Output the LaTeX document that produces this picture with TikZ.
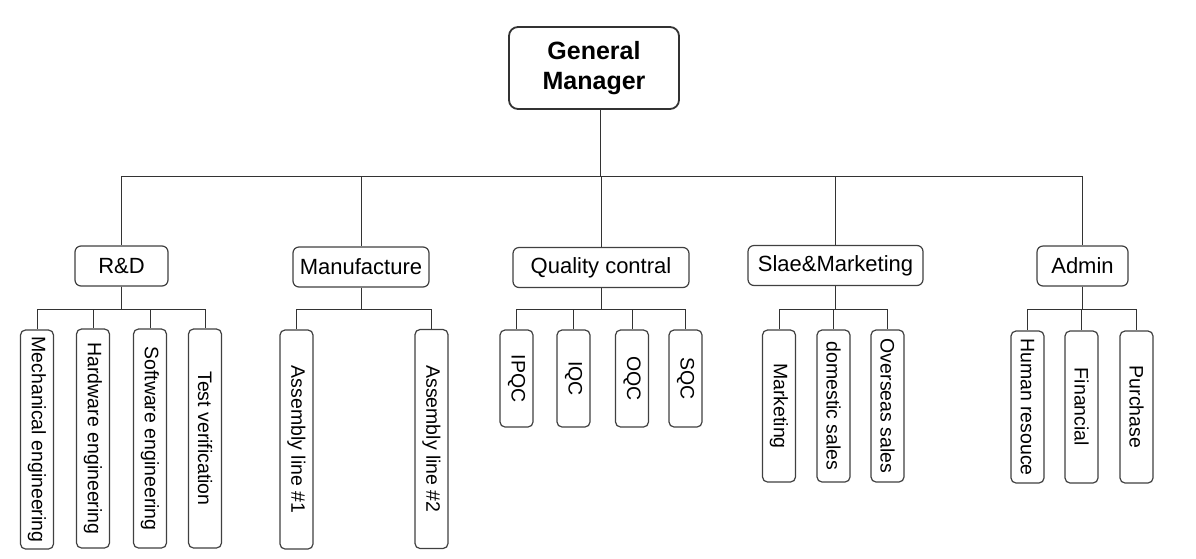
\documentclass[tikz,border=0pt]{standalone}
\usepackage{fontspec}
\setmainfont{Liberation Sans}
\usepackage{graphicx}
\begin{document}
\begin{tikzpicture}[x=1pt,y=-1pt,
  gmbox/.style={draw=black!80, line width=1.8pt, rounded corners=9pt, fill=white,
    minimum width=170pt, minimum height=82pt, inner sep=0pt, align=center,
    font=\fontsize{25}{30}\selectfont\bfseries},
  deptbox/.style={draw=black!75, line width=1.2pt, rounded corners=6pt, fill=white,
    minimum height=40pt, inner sep=0pt, font=\fontsize{22}{26}\selectfont},
  subbox/.style={draw=black!75, line width=1.2pt, rounded corners=5pt, fill=white,
    minimum width=33pt, inner sep=0pt, font=\fontsize{19.5}{22}\selectfont},
  tall/.style={subbox, minimum height=219pt},
  short/.style={subbox, minimum height=97pt},
  mid/.style={subbox, minimum height=152pt},
  link/.style={draw=black!80, line width=1pt}
]
\useasboundingbox (0,0) rectangle (1196,558);

\node[gmbox] (gm) at (594,68) {General\\Manager};
\coordinate (gmout) at ([xshift=6pt]gm.south);

\node[deptbox, minimum width=93pt] (rd) at (121.5,266) {R\&D};
\node[deptbox, minimum width=136pt] (mf) at (361,267) {Manufacture};
\node[deptbox, minimum width=176pt] (qc) at (601,267.5) {Quality contral};
\node[deptbox, minimum width=175pt] (sm) at (835.5,265.5) {Slae\&Marketing};
\node[deptbox, minimum width=91pt] (ad) at (1082.5,266) {Admin};

% R&D children
\node[tall] (rd1) at (37,439.5) {\rotatebox{-90}{Mechanical engineering}};
\node[tall] (rd2) at (93,438.5) {\rotatebox{-90}{Hardware engineering}};
\node[tall] (rd3) at (150,438.5) {\rotatebox{-90}{Software engineering}};
\node[tall] (rd4) at (205,438.5) {\rotatebox{-90}{Test verification}};
% Manufacture children
\node[tall] (mf1) at (296.5,439.5) {\rotatebox{-90}{Assembly line \#1}};
\node[tall] (mf2) at (431.5,439) {\rotatebox{-90}{Assembly line \#2}};
% QC children
\node[short] (qc1) at (516.5,378.5) {\rotatebox{-90}{IPQC}};
\node[short] (qc2) at (573.5,378.5) {\rotatebox{-90}{IQC}};
\node[short] (qc3) at (632,378.5) {\rotatebox{-90}{OQC}};
\node[short] (qc4) at (685.5,378.5) {\rotatebox{-90}{SQC}};
% Sales children
\node[mid] (sm1) at (779,406) {\rotatebox{-90}{Marketing}};
\node[mid] (sm2) at (833.5,406) {\rotatebox{-90}{domestic sales}};
\node[mid] (sm3) at (887.5,406) {\rotatebox{-90}{Overseas sales}};
% Admin children
\node[mid] (ad1) at (1027.5,407) {\rotatebox{-90}{Human resouce}};
\node[mid] (ad2) at (1081.5,407) {\rotatebox{-90}{Financial}};
\node[mid] (ad3) at (1136.5,407) {\rotatebox{-90}{Purchase}};

% top-level connectors
\coordinate (bus) at (0,176);
\foreach \d in {rd,mf,qc,sm,ad}{
  \draw[link] (gmout) -- (gmout |- bus) -| (\d.north);
}
% department connectors
\coordinate (sub) at (0,309);
\foreach \p/\c in {rd/rd1,rd/rd2,rd/rd3,rd/rd4,mf/mf1,mf/mf2,
                   qc/qc1,qc/qc2,qc/qc3,qc/qc4,sm/sm1,sm/sm2,sm/sm3,
                   ad/ad1,ad/ad2,ad/ad3}{
  \draw[link] (\p.south) -- (\p.south |- sub) -| (\c.north);
}
\end{tikzpicture}
\end{document}
